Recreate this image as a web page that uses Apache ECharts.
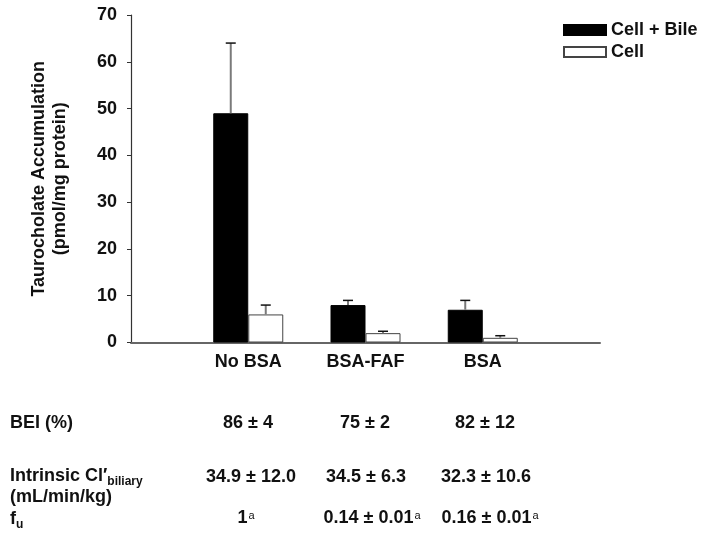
<!DOCTYPE html>
<html>
<head>
<meta charset="utf-8">
<script src="https://cdn.jsdelivr.net/npm/echarts@6/dist/echarts.min.js"></script>
<style>html,body{margin:0;padding:0;background:#fff}#c{width:703px;height:544px}</style>
</head>
<body>
<div id="c"></div>
<script>
// ---- data ----
var categories = ['', 'No BSA', 'BSA-FAF', 'BSA', ''];
var seriesNames = ['Cell + Bile', 'Cell'];
var cellBile = [null, 49, 8, 7, null];
var cellBileSD = [null, 15, 1, 2, null];
var cell = [null, 6, 2, 1, null];
var cellSD = [null, 2, 0.4, 0.45, null];
var yTicks = [0, 10, 20, 30, 40, 50, 60, 70];
var rowLabels = ['BEI (%)', 'Intrinsic Cl′', '(mL/min/kg)', 'f'];
var beiValues = ['86 ± 4', '75 ± 2', '82 ± 12'];
var clValues = ['34.9 ± 12.0', '34.5 ± 6.3', '32.3 ± 10.6'];
var fuValues = ['1', '0.14 ± 0.01', '0.16 ± 0.01'];

var FONT = '"Liberation Sans", Arial, sans-serif';
var FS = 18;
var BAR_W = 35;

function errData(vals, sds) {
  var out = [];
  for (var i = 0; i < vals.length; i++) {
    if (vals[i] != null) out.push([i, vals[i] + sds[i], vals[i]]);
  }
  return out;
}

function errRender(offset) {
  return function (params, api) {
    var top = api.coord([api.value(0), api.value(1)]);
    var base = api.coord([api.value(0), api.value(2)]);
    var x = top[0] + offset;
    return {
      type: 'group',
      children: [
        { type: 'line', shape: { x1: x, y1: base[1], x2: x, y2: top[1] },
          style: { stroke: '#7a7a7a', lineWidth: 2 } },
        { type: 'line', shape: { x1: x - 5, y1: top[1], x2: x + 5, y2: top[1] },
          style: { stroke: '#111', lineWidth: 1.5 } }
      ]
    };
  };
}

var chart = echarts.init(document.getElementById('c'), null, { renderer: 'canvas' });

var txt = { fontFamily: FONT, fontWeight: 'bold', fontSize: FS, fill: '#111' };
function T(x, y, text, align, rich) {
  var s = Object.assign({}, txt, { x: x, y: y, text: text, align: align || 'center', verticalAlign: 'middle' });
  if (rich) s.rich = rich;
  return { type: 'text', style: s, z: 10 };
}
var richSub = {
  b: { fontFamily: FONT, fontWeight: 'bold', fontSize: FS, lineHeight: 24, fill: '#111' },
  sub: { fontFamily: FONT, fontWeight: 'bold', fontSize: 12, verticalAlign: 'bottom', fill: '#111' },
  sup: { fontFamily: FONT, fontWeight: 'normal', fontSize: 11, verticalAlign: 'middle', padding: [0, 0, 4, 1], fill: '#111' }
};

var graphics = [
  T(10, 423, rowLabels[0], 'left'),
  T(10, 476, '{b|' + rowLabels[1] + '}{sub|biliary}', 'left', richSub),
  T(10, 497, rowLabels[2], 'left'),
  T(10, 519, '{b|' + rowLabels[3] + '}{sub|u}', 'left', richSub)
];
var beiX = [248, 365, 485];
var clX = [251, 366, 486];
var fuX = [246, 372, 490];
for (var i = 0; i < 3; i++) {
  graphics.push(T(beiX[i], 423, beiValues[i]));
  graphics.push(T(clX[i], 477, clValues[i]));
  graphics.push(T(fuX[i], 518, '{b|' + fuValues[i] + '}{sup|a}', 'center', richSub));
}

chart.setOption({
  animation: false,
  backgroundColor: '#fff',
  grid: { left: 131, right: 103, top: 15, bottom: 201.5, containLabel: false },
  legend: {
    data: seriesNames,
    orient: 'vertical',
    left: 558, top: 16,
    itemWidth: 42, itemHeight: 10, itemGap: 4,
    textStyle: { fontFamily: FONT, fontWeight: 'bold', fontSize: FS, color: '#111' },
    icon: 'rect'
  },
  xAxis: {
    type: 'category',
    data: categories,
    boundaryGap: false,
    axisLine: { lineStyle: { color: '#666', width: 2 } },
    axisTick: { show: false },
    axisLabel: { interval: 0, margin: 11, fontFamily: FONT, fontWeight: 'bold', fontSize: FS, color: '#111' },
    splitLine: { show: false }
  },
  yAxis: {
    type: 'value',
    min: yTicks[0], max: yTicks[yTicks.length - 1], interval: 10,
    name: 'Taurocholate Accumulation\n(pmol/mg protein)',
    nameLocation: 'middle',
    nameGap: 60,
    nameRotate: 90,
    nameTextStyle: { fontFamily: FONT, fontWeight: 'bold', fontSize: FS, lineHeight: 21, color: '#111' },
    axisLine: { show: true, lineStyle: { color: '#333', width: 1.2 } },
    axisTick: { show: true, length: 4, lineStyle: { color: '#333' } },
    axisLabel: { margin: 14, fontFamily: FONT, fontWeight: 'bold', fontSize: FS, color: '#111' },
    splitLine: { show: false }
  },
  series: [
    { name: seriesNames[0], type: 'bar', data: cellBile, barWidth: BAR_W, barGap: '0%',
      itemStyle: { color: '#000', borderColor: '#000', borderWidth: 1 } },
    { name: seriesNames[1], type: 'bar', data: cell, barWidth: BAR_W, barGap: '0%',
      itemStyle: { color: '#fff', borderColor: '#444', borderWidth: 1 } },
    { name: 'errBile', type: 'custom', data: errData(cellBile, cellBileSD), renderItem: errRender(-BAR_W / 2), z: 5 },
    { name: 'errCell', type: 'custom', data: errData(cell, cellSD), renderItem: errRender(BAR_W / 2), z: 5 }
  ],
  graphic: graphics
});
</script>
</body>
</html>
